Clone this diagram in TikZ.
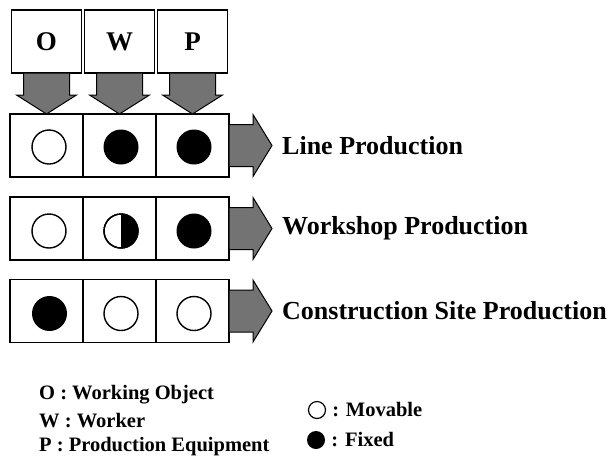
\documentclass[tikz,border=0pt]{standalone}
\usepackage{fontspec}
\setmainfont{Liberation Serif}
\usetikzlibrary{calc}
\begin{document}
\begin{tikzpicture}[x=1pt,y=-1pt,
  cell/.style={draw, line width=1.1pt, minimum width=73pt, minimum height=63pt, inner sep=0pt, outer sep=0pt},
  topbox/.style={draw, line width=1.1pt, minimum width=70pt, minimum height=63pt, inner sep=0pt, outer sep=0pt, font=\fontsize{27}{30}\selectfont\bfseries},
  blk/.style={draw, line width=1pt, fill=black!55, line join=miter},
  lbl/.style={anchor=west, font=\fontsize{26}{30}\selectfont\bfseries, inner sep=0pt},
  leg/.style={anchor=west, font=\fontsize{20.5}{24}\selectfont\bfseries, inner sep=0pt},
  opencirc/.style={draw, line width=1.4pt, circle, minimum size=34pt, inner sep=0pt, outer sep=0pt},
  fullcirc/.style={fill=black, circle, minimum size=35pt, inner sep=0pt, outer sep=0pt},
  smallopen/.style={draw, line width=1.2pt, circle, minimum size=17pt, inner sep=0pt},
  smallfull/.style={fill=black, circle, minimum size=18pt, inner sep=0pt}]
\useasboundingbox (0,0) rectangle (615,475);

% top boxes
\node[topbox] (tO) at (46.5,41.5) {O};
\node[topbox] (tW) at (119.5,41.5) {W};
\node[topbox] (tP) at (192.5,41.5) {P};

% rows of cells
\foreach \r/\y in {1/145.5, 2/228.5, 3/311} {
  \node[cell] (c\r1) at (46.5,\y) {};
  \node[cell] (c\r2) at (119.5,\y) {};
  \node[cell] (c\r3) at (192.5,\y) {};
}

% down block arrows from top boxes to first row
\foreach \t/\c in {tO/c11, tW/c12, tP/c13} {
  \draw[blk] ($(\t.south)+(-23,0)$) -- ($(\t.south)+(23,0)$) -- ($(\t.south)+(23,22)$)
    -- ($(\t.south)+(30,22)$) -- (\c.north) -- ($(\t.south)+(-30,22)$)
    -- ($(\t.south)+(-23,22)$) -- cycle;
}

% right block arrows
\foreach \r in {1,2,3} {
  \draw[blk] ($(c\r3.east)+(0,-21)$) -- ($(c\r3.east)+(24,-21)$) -- ($(c\r3.east)+(24,-31)$)
    -- ($(c\r3.east)+(43,0)$) -- ($(c\r3.east)+(24,31)$)
    -- ($(c\r3.east)+(24,21)$) -- ($(c\r3.east)+(0,21)$) -- cycle;
}

% labels
\node[lbl] (l1) at ($(c13.east)+(53,0)$) {Line Production};
\node[lbl] (l2) at ($(c23.east)+(53,0)$) {Workshop Production};
\node[lbl] (l3) at ($(c33.east)+(53,0)$) {Construction Site Production};

% circles row 1
\node[opencirc] (k11) at ($(c11.center)+(2.5,1.5)$) {};
\node[fullcirc] (k12) at ($(c12.center)+(1.5,1.5)$) {};
\node[fullcirc] (k13) at ($(c13.center)+(1.5,1.5)$) {};
% row 2
\node[opencirc] (k21) at ($(c21.center)+(2.5,2.5)$) {};
\node[opencirc] (k22) at ($(c22.center)+(1.5,2.5)$) {};
\begin{scope}
  \clip (k22.north) rectangle ($(k22.south)+(25,0)$);
  \fill[black] (k22.center) circle[radius=17pt];
\end{scope}
\node[opencirc] at (k22.center) {};
\node[fullcirc] (k23) at ($(c23.center)+(1.5,2.5)$) {};
% row 3
\node[fullcirc] (k31) at ($(c31.center)+(3,2.5)$) {};
\node[opencirc] (k32) at ($(c32.center)+(1.5,2.5)$) {};
\node[opencirc] (k33) at ($(c33.center)+(1.5,2.5)$) {};

% legend
\node[leg] (g1) at (39,395) {O : Working Object};
\node[leg] (g2) at (39,421) {W : Worker};
\node[leg] (g3) at (39,447) {P : Production Equipment};
\node[smallopen] (m1) at (317,410) {};
\node[leg] (g4) at ($(m1.east)+(6,0)$) {: Movable};
\node[smallfull] (m2) at (316,440) {};
\node[leg] (g5) at ($(m2.east)+(6,0)$) {: Fixed};
\end{tikzpicture}
\end{document}
